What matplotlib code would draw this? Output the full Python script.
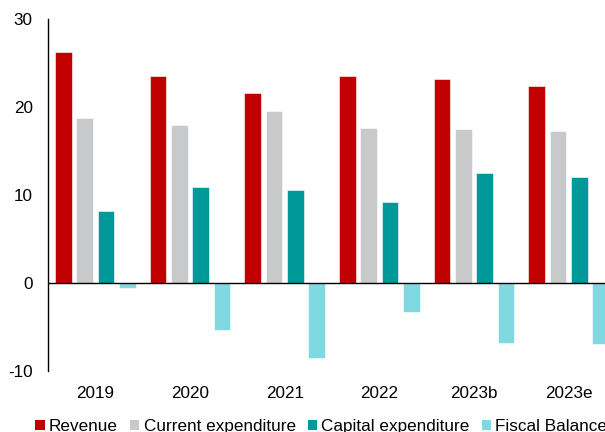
import numpy as np
import matplotlib
matplotlib.use("Agg")
import matplotlib.pyplot as plt
from matplotlib.patches import Patch

# --- Data (share of GDP, %) ---
years = ["2019", "2020", "2021", "2022", "2023b", "2023e"]
revenue = [26.25, 23.5, 21.6, 23.5, 23.2, 22.4]
current_exp = [18.7, 17.95, 19.55, 17.6, 17.5, 17.3]
capital_exp = [8.2, 10.9, 10.6, 9.2, 12.5, 12.1]
fiscal_balance = [-0.6, -5.3, -8.55, -3.3, -6.8, -6.9]

series = ["Revenue", "Current expenditure", "Capital expenditure", "Fiscal Balance"]
colors = ["#C00000", "#C8C9CB", "#009999", "#80D8E1"]

plt.rcParams["font.family"] = ["Liberation Sans", "DejaVu Sans"]
plt.rcParams["axes.unicode_minus"] = False

fig = plt.figure(figsize=(6.05, 4.32), dpi=100)
# axes run a bit past the right edge, so the last bar is cut off
ax = fig.add_axes([48 / 605, 1 - 371 / 432, 568 / 605, 352 / 432])

x = np.arange(len(years))
step = 0.225
width = 0.176
for i, (vals, col) in enumerate(zip([revenue, current_exp, capital_exp, fiscal_balance], colors)):
    ax.bar(x + (i - 1.5) * step, vals, width=width, color=col, edgecolor="white", linewidth=0.4)

ax.axhline(0, color="black", linewidth=1)
ax.set_xlim(-0.5, len(years) - 0.5)
ax.set_ylim(-10, 30)
ax.set_yticks([-10, 0, 10, 20, 30])
ax.set_xticks(x)
ax.set_xticklabels(years)

for s in ["top", "right", "bottom"]:
    ax.spines[s].set_visible(False)
ax.spines["left"].set_linewidth(1)
ax.tick_params(axis="y", length=0, pad=11, labelsize=12.3)
ax.tick_params(axis="x", length=0, pad=11, labelsize=12.3)

# --- Legend under the chart ---
handles = [Patch(facecolor=c, edgecolor="none") for c in colors]
fig.legend(handles, series, loc="center", ncol=4, bbox_to_anchor=(0.531, 0.012),
           frameon=False, fontsize=12.3, handlelength=0.55, handleheight=0.55,
           handletextpad=0.25, columnspacing=0.7, borderpad=0)

fig.savefig("out.png", dpi=100)
